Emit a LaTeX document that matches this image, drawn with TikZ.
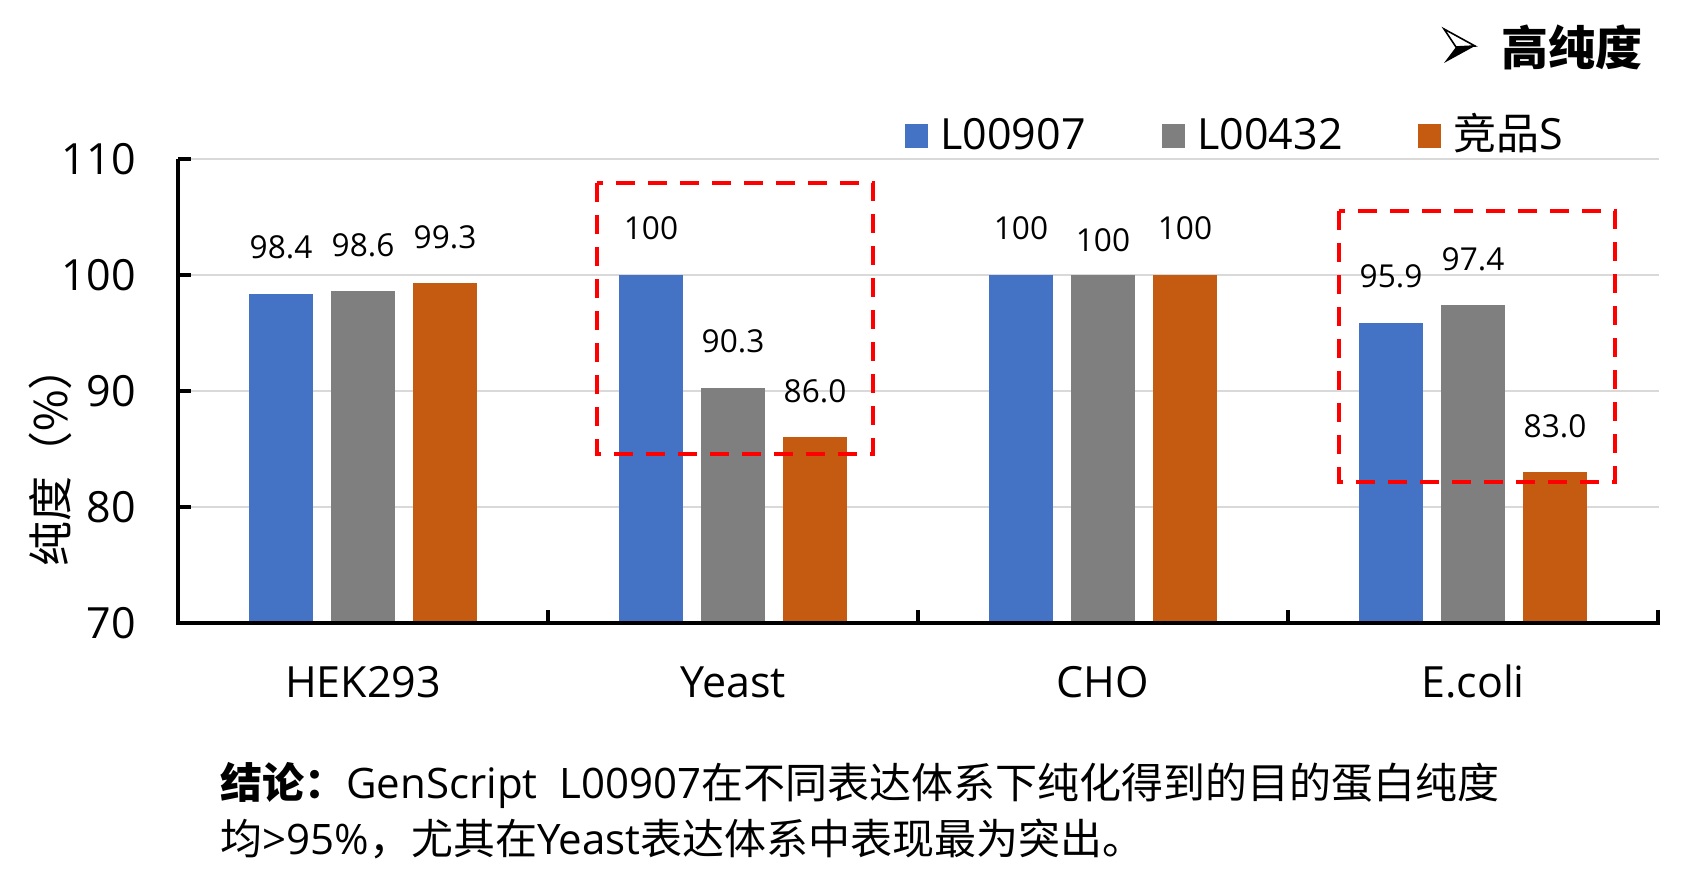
\documentclass[tikz,border=0pt]{standalone}
\usepackage{fontspec}
\setmainfont{Open Sans}
\newfontfamily\cjk{Noto Sans CJK SC}
\definecolor{barA}{HTML}{4472C4}
\definecolor{barB}{HTML}{7F7F7F}
\definecolor{barC}{HTML}{C55A11}
\definecolor{gridgray}{HTML}{D9D9D9}
\definecolor{boxred}{HTML}{FF0000}
\begin{document}
\begin{tikzpicture}[x=0.5pt,y=-0.5pt,
  gridline/.style={draw=gridgray,line width=1.25pt},
  axisline/.style={draw=black,line width=2.25pt},
  redbox/.style={draw=boxred,line width=2.2pt,dash pattern=on 9.5pt off 6.5pt},
  vallabel/.style={anchor=base,inner sep=0pt,font=\fontsize{15.8}{18}\selectfont},
  axislabel/.style={inner sep=0pt,font=\fontsize{21.5}{25}\selectfont}]
\useasboundingbox (0,0) rectangle (1687,887);
\foreach \g in {80,90,100,110} \draw[gridline] (178,{623-(\g-70)*11.6}) -- (1659,{623-(\g-70)*11.6}); %grid
\foreach \g in {70,80,...,110} \node[axislabel,anchor=east] (y\g) at (136,{623-(\g-70)*11.6}) {\g};
% bars and values
\foreach \i/\va/\vb/\vc in {0/98.4/98.6/99.3, 1/100/90.3/86.0, 2/100/100/100, 3/95.9/97.4/83.0}{
  \foreach \k/\v/\c in {0/\va/barA, 1/\vb/barB, 2/\vc/barC}{
    \pgfmathsetmacro\xl{178+370*\i+71+82*\k}
    \pgfmathsetmacro\yt{623-(\v-70)*11.6}
    \pgfmathsetmacro\dy{(\i==2)*(\k==1)*12}
    \fill[\c] (\xl,\yt) rectangle (\xl+64,621);
    \node[vallabel] (v\i\k) at (\xl+32,\yt-35+\dy) {\v};
  }
}
\draw[axisline] (178,159) -- (178,625); %y-axis
\draw[axisline] (177,623) -- (1660,623); %x-axis
\foreach \g in {80,90,100,110} \draw[axisline] (178,{623-(\g-70)*11.6}) -- (191,{623-(\g-70)*11.6});
\foreach \t in {548,918,1288,1658} \draw[axisline] (\t,610) -- (\t,623);
\foreach \name [count=\i from 0] in {HEK293,Yeast,CHO,E.coli}
  \node[axislabel,anchor=base] (c\i) at ({363+370*\i},697) {\name};
\node[inner sep=0pt,font=\fontsize{22.5}{26}\selectfont,rotate=90] (ytitle) at (50,456) {\cjk 纯度（\%）};
% highlight boxes
\draw[redbox] (597,183) rectangle (873,454);
\draw[redbox] (1339,211) rectangle (1615,482);
% legend
\foreach \c/\xs/\txt in {barA/905/L00907, barB/1162/L00432, barC/1418/{{\cjk 竞品}S}}{
  \fill[\c] (\xs,124) rectangle (\xs+23,148);
  \node[axislabel,anchor=base west] (leg\c) at (\xs+35,150) {\txt};
}
% title
\fill[black] (1456,47) -- (1475,46) -- (1444,63) -- cycle;
\draw[black,line width=0.8pt,line join=miter] (1444,29) -- (1475,46) -- (1456,47) -- cycle;
\node[anchor=west,inner sep=0pt,font={\cjk\bfseries\fontsize{23.5}{28}\selectfont}] (title) at (1501,47) {高纯度};
% conclusion
\node[anchor=base west,inner sep=0pt,font=\fontsize{21}{25}\selectfont] (concl1) at (220,798)
  {{\cjk\bfseries 结论：}GenScript\ \ L00907{\cjk 在不同表达体系下纯化得到的目的蛋白纯度}};
\node[anchor=base west,inner sep=0pt,font=\fontsize{21}{25}\selectfont] (concl2) at (220,854)
  {{\cjk 均}>95\%{\cjk ，尤其在}Yeast{\cjk 表达体系中表现最为突出。}};
\end{tikzpicture}
\end{document}
